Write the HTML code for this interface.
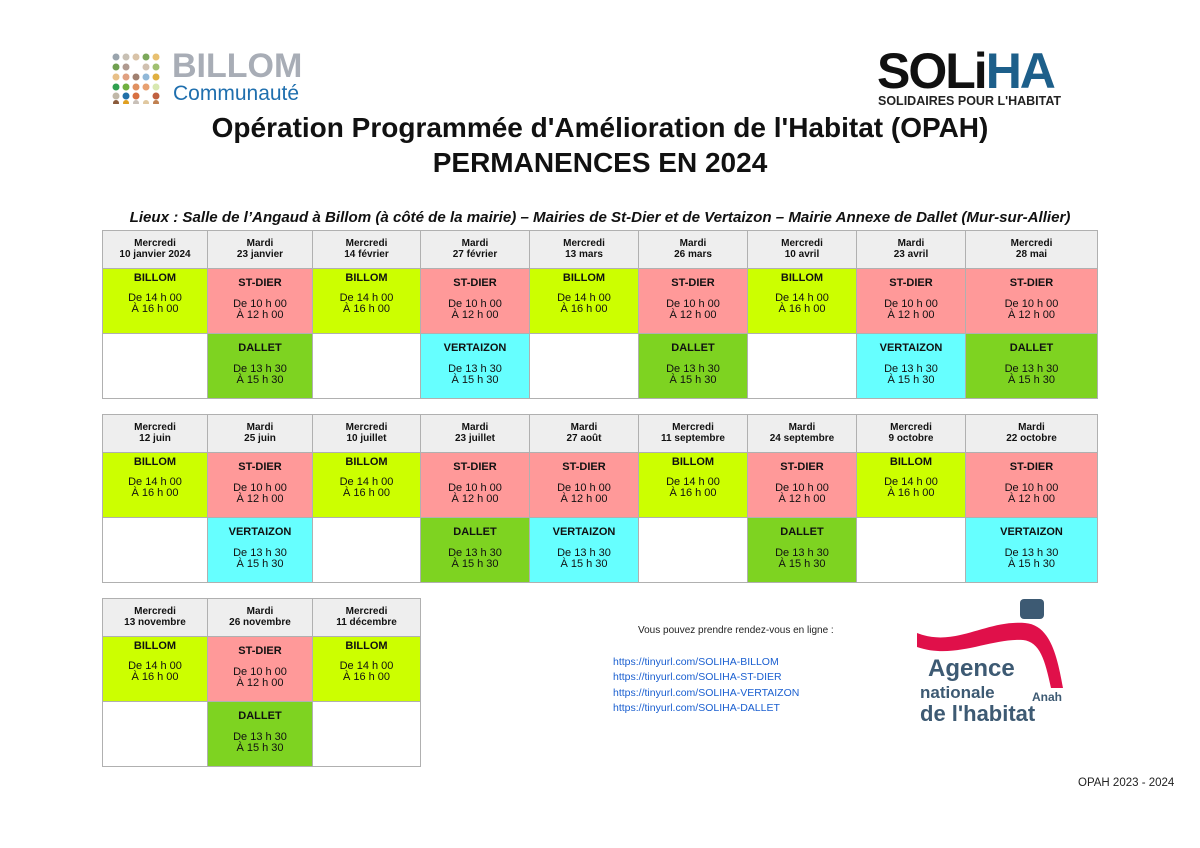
<!DOCTYPE html>
<html><head><meta charset="utf-8"><style>
body{margin:0;width:1200px;height:848px;background:#fff;font-family:"Liberation Sans",Arial,sans-serif;position:relative;overflow:hidden}
.a{position:absolute}
.c{position:absolute;box-sizing:border-box;border:1px solid #b0b0b0;text-align:center;color:#111}
.h{background:#eeeeee;font-weight:bold;font-size:10px;line-height:11px;padding-top:7px}
.t{font-weight:bold;font-size:11px;display:block}
.tm{font-size:11px;line-height:11px;display:block}
a{color:#1a5fd0}
</style></head><body>
<div class="a" style="left:112px;top:52px;width:50px;height:52px">
<svg width="50" height="52"><g>
<circle cx="4" cy="5" r="3.5" fill="#9aa4ad"/><circle cx="14" cy="5" r="3.5" fill="#c8c0b4"/><circle cx="24" cy="5" r="3.5" fill="#d9c3a8"/><circle cx="34" cy="5" r="3.5" fill="#7ba85a"/><circle cx="44" cy="5" r="3.5" fill="#e8c070"/>
<circle cx="4" cy="15" r="3.5" fill="#70a050"/><circle cx="14" cy="15" r="3.5" fill="#b09a90"/><circle cx="34" cy="15" r="3.5" fill="#d0c0b0"/><circle cx="44" cy="15" r="3.5" fill="#a0c070"/>
<circle cx="4" cy="25" r="3.5" fill="#e8c088"/><circle cx="14" cy="25" r="3.5" fill="#e0a080"/><circle cx="24" cy="25" r="3.5" fill="#a08070"/><circle cx="34" cy="25" r="3.5" fill="#90b8d8"/><circle cx="44" cy="25" r="3.5" fill="#e0b040"/>
<circle cx="4" cy="35" r="3.5" fill="#30a050"/><circle cx="14" cy="35" r="3.5" fill="#70b040"/><circle cx="24" cy="35" r="3.5" fill="#e09060"/><circle cx="34" cy="35" r="3.5" fill="#e8a070"/><circle cx="44" cy="35" r="3.5" fill="#d8e8b0"/>
<circle cx="4" cy="44" r="3.5" fill="#c0b8a8"/><circle cx="14" cy="44" r="3.5" fill="#2070a8"/><circle cx="24" cy="44" r="3.5" fill="#d87040"/><circle cx="44" cy="44" r="3.5" fill="#c06040"/>
<circle cx="4" cy="51" r="3" fill="#8a5a3a"/><circle cx="14" cy="51" r="3" fill="#e0a020"/><circle cx="24" cy="51" r="3" fill="#c8c0b8"/><circle cx="34" cy="51" r="3" fill="#e0c8a0"/><circle cx="44" cy="51" r="3" fill="#c08050"/>
</g></svg></div>
<div class="a" style="left:172px;top:47px;font-size:34px;font-weight:bold;color:#a8adb6">BILLOM</div>
<div class="a" style="left:173px;top:82px;font-size:21px;color:#1f6fae">Communauté</div>
<div class="a" style="left:877px;top:46px;font-size:50px;font-weight:bold;letter-spacing:-2px;line-height:50px"><span style="color:#111">SOLi</span><span style="color:#1d5f8a">HA</span></div>
<div class="a" style="left:878px;top:94px;font-size:12.5px;font-weight:bold;color:#222">SOLIDAIRES POUR L'HABITAT</div>
<div class="a" style="left:0;width:1200px;top:112px;text-align:center;font-size:28px;font-weight:bold;color:#111">Opération Programmée d'Amélioration de l'Habitat (OPAH)</div>
<div class="a" style="left:0;width:1200px;top:147px;text-align:center;font-size:28px;font-weight:bold;color:#111">PERMANENCES EN 2024</div>
<div class="a" style="left:0;width:1200px;top:209px;text-align:center;font-size:15.1px;font-weight:bold;font-style:italic;color:#111">Lieux : Salle de l’Angaud à Billom (à côté de la mairie) – Mairies de St-Dier et de Vertaizon – Mairie Annexe de Dallet (Mur-sur-Allier)</div>
<div id="tbl"></div>
<div class="a" style="left:638px;top:625px;font-size:10px;color:#222">Vous pouvez prendre rendez-vous en ligne :</div>
<div class="a" style="left:613px;top:655px;font-size:10.5px;line-height:15.3px">
<a>https://tinyurl.com/SOLIHA-BILLOM</a><br><a>https://tinyurl.com/SOLIHA-ST-DIER</a><br><a>https://tinyurl.com/SOLIHA-VERTAIZON</a><br><a>https://tinyurl.com/SOLIHA-DALLET</a></div>
<div class="a" style="left:1020px;top:599px;width:24px;height:20px;background:#3d5a73;border-radius:4px"></div>
<svg class="a" style="left:915px;top:620px" width="150" height="80"><path d="M2 13 C40 28 70 0 110 3 C135 5 142 35 148 68 L136 68 C130 40 125 22 108 20 C75 18 40 40 2 27Z" fill="#e0104a"/></svg>
<div class="a" style="left:928px;top:655px;font-size:24px;font-weight:bold;color:#3d5a73">Agence</div>
<div class="a" style="left:920px;top:683px;font-size:17px;font-weight:bold;color:#3d5a73">nationale</div>
<div class="a" style="left:1032px;top:690px;font-size:12px;font-weight:bold;color:#3d5a73">Anah</div>
<div class="a" style="left:920px;top:701px;font-size:22px;font-weight:bold;color:#3d5a73">de l'habitat</div>
<div class="a" style="left:1078px;top:777px;font-size:11.5px;color:#222">OPAH 2023 - 2024</div>
<script>
var X=[102,207,312,420,529,638,747,856,965,1097];
var C={B:"#ccff00",S:"#ff9999",D:"#7ed321",V:"#66ffff"};
var N={B:"BILLOM",S:"ST-DIER",D:"DALLET",V:"VERTAIZON"};
var T={B:["De 14 h 00","À 16 h 00"],S:["De 10 h 00","À 12 h 00"],D:["De 13 h 30","À 15 h 30"],V:["De 13 h 30","À 15 h 30"]};
var tables=[
 [230,[["Mercredi","10 janvier 2024","B",""],["Mardi","23 janvier","S","D"],["Mercredi","14 février","B",""],["Mardi","27 février","S","V"],["Mercredi","13 mars","B",""],["Mardi","26 mars","S","D"],["Mercredi","10 avril","B",""],["Mardi","23 avril","S","V"],["Mercredi","28 mai","S","D"]]],
 [414,[["Mercredi","12 juin","B",""],["Mardi","25 juin","S","V"],["Mercredi","10 juillet","B",""],["Mardi","23 juillet","S","D"],["Mardi","27 août","S","V"],["Mercredi","11 septembre","B",""],["Mardi","24 septembre","S","D"],["Mercredi","9 octobre","B",""],["Mardi","22 octobre","S","V"]]],
 [598,[["Mercredi","13 novembre","B",""],["Mardi","26 novembre","S","D"],["Mercredi","11 décembre","B",""]]]
];
var h="";
function cell(x,y,w,hh,k,pad){
 if(!k)return '<div class="c" style="left:'+x+'px;top:'+y+'px;width:'+w+'px;height:'+hh+'px"></div>';
 return '<div class="c" style="left:'+x+'px;top:'+y+'px;width:'+w+'px;height:'+hh+'px;background:'+C[k]+';padding-top:'+pad+'px"><span class="t">'+N[k]+'</span><span class="tm" style="margin-top:'+(k=="B"?9:10)+'px">'+T[k][0]+'</span><span class="tm">'+T[k][1]+'</span></div>';
}
tables.forEach(function(t){var y=t[0];t[1].forEach(function(c,i){
 var x=X[i],w=X[i+1]-X[i]+1;
 h+='<div class="c h" style="left:'+x+'px;top:'+y+'px;width:'+w+'px;height:39px">'+c[0]+'<br>'+c[1]+'</div>';
 h+=cell(x,y+38,w,66,c[2],c[2]=="B"?3:8);
 h+=cell(x,y+103,w,66,c[3],8);
});});
document.getElementById("tbl").innerHTML=h;
</script>
</body></html>
